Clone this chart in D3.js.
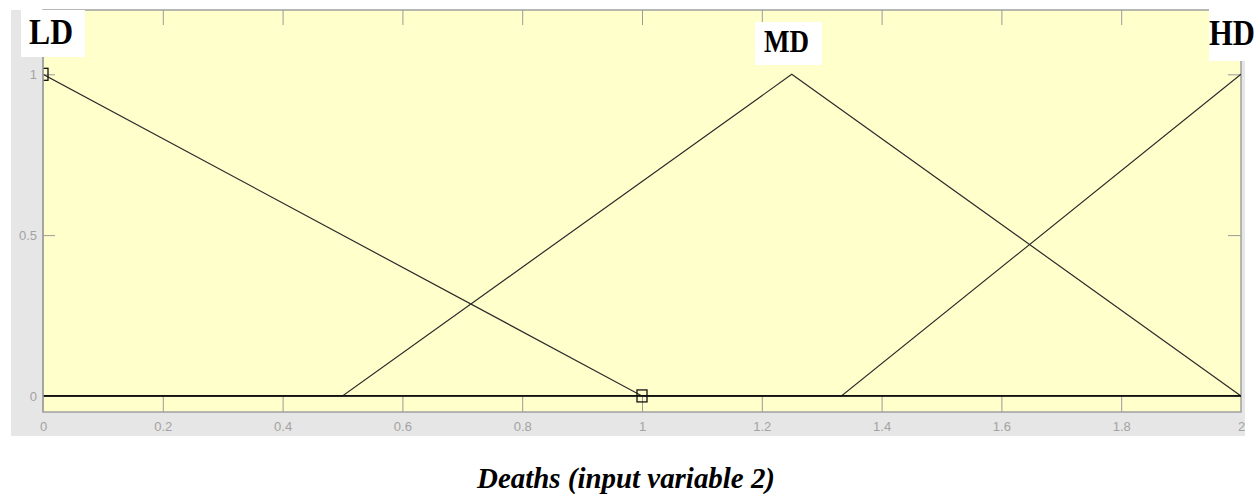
<!DOCTYPE html>
<html><head><meta charset="utf-8">
<script src="https://cdn.jsdelivr.net/npm/d3@7"></script>
<style>body{margin:0;background:#fff}svg{display:block}</style>
</head><body>
<svg id="c" width="1260" height="498"></svg>
<script>
const xTicks = [0,0.2,0.4,0.6,0.8,1,1.2,1.4,1.6,1.8,2];
const yTicks = [0,0.5,1];
const mfNames = ["LD","MD","HD"];
const ldX = [0,1,2],        ldY = [1,0,0];
const mdX = [0,0.5,1.25,2], mdY = [0,0,1,0];
const hdX = [0,1.333,2],    hdY = [0,0,1];
const markerX = [0,1], markerY = [1,0];
const title = "Deaths (input variable 2)";

const svg = d3.select("#c");
const L = 43, R = 1241, T = 10, B = 412;
const x = d3.scaleLinear().domain([0,2]).range([L,R]);
const y = d3.scaleLinear().domain([-0.05,1.2]).range([B,T]);

svg.append("defs").append("clipPath").attr("id","plotclip").append("rect")
  .attr("x",L).attr("y",T).attr("width",R-L).attr("height",B-T);

svg.append("rect").attr("x",11).attr("y",10).attr("width",1234).attr("height",426).attr("fill","#e6e6e6");
svg.append("rect").attr("x",L).attr("y",T).attr("width",R-L).attr("height",B-T).attr("fill","#ffffcc");

const tickCol = "#9a9a9a";
const g = svg.append("g");
g.append("g").attr("transform",`translate(0,${B})`).call(d3.axisBottom(x).tickValues(xTicks).tickSizeInner(-16).tickSizeOuter(0).tickPadding(10).tickFormat(d3.format("~g")));
g.append("g").attr("transform",`translate(0,${T})`).call(d3.axisTop(x).tickValues(xTicks).tickSizeInner(-15).tickSizeOuter(0).tickFormat(""));
g.append("g").attr("transform",`translate(${L},0)`).call(d3.axisLeft(y).tickValues(yTicks).tickSizeInner(-12).tickSizeOuter(0).tickPadding(6).tickFormat(d3.format("~g")));
g.append("g").attr("transform",`translate(${R},0)`).call(d3.axisRight(y).tickValues(yTicks).tickSizeInner(-13).tickSizeOuter(0).tickFormat(""));
g.selectAll(".domain").remove();
g.selectAll(".tick line").attr("stroke",tickCol);
g.selectAll(".tick text").attr("fill","#a3a3a3").attr("font-family","Liberation Sans, Arial").attr("font-size",13);
g.selectAll(".tick").filter(d=>d===0||d===2).select("line").attr("stroke","none");
svg.append("rect").attr("x",L).attr("y",T).attr("width",R-L).attr("height",B-T).attr("fill","none").attr("stroke","#a0a0a0").attr("stroke-width",1.5);

const plot = svg.append("g").attr("clip-path","url(#plotclip)");
const line = d3.line().x(d=>x(d[0])).y(d=>y(d[1]));
[[ldX,ldY],[mdX,mdY],[hdX,hdY]].forEach(([xs,ys])=>{
  plot.append("path").attr("d",line(xs.map((v,i)=>[v,ys[i]]))).attr("fill","none").attr("stroke","#2a2a2a").attr("stroke-width",1.2);
});
plot.append("line").attr("x1",x(0)).attr("x2",x(2)).attr("y1",y(0)).attr("y2",y(0)).attr("stroke","#111").attr("stroke-width",1.6);

markerX.forEach((mx,i)=>{
  plot.append("rect").attr("x",x(mx)-5).attr("y",y(markerY[i])-6).attr("width",10).attr("height",12)
    .attr("fill","none").attr("stroke","#111").attr("stroke-width",1.3);
});
svg.append("line").attr("x1",L).attr("x2",L).attr("y1",T).attr("y2",B).attr("stroke","#a0a0a0").attr("stroke-width",1.5);

const boxes = [
  {name:mfNames[0], bx:21, by:10, bw:64, bh:47, tx:29, ty:44, tw:44, fs:31.5, sy:1.14},
  {name:mfNames[1], bx:755, by:22, bw:67, bh:43, tx:764, ty:52, tw:45, fs:27, sy:1.18},
  {name:mfNames[2], bx:1209, by:0, bw:51, bh:61, tx:1209, ty:45, tw:46, fs:30.5, sy:1.2}
];
boxes.forEach(b=>{
  svg.append("rect").attr("x",b.bx).attr("y",b.by).attr("width",b.bw).attr("height",b.bh).attr("fill","#fff");
  svg.append("text").attr("transform",`translate(${b.tx},${b.ty}) scale(1,${b.sy})`)
    .attr("textLength",b.tw).attr("lengthAdjust","spacingAndGlyphs")
    .attr("font-family","Liberation Serif, Times New Roman, serif").attr("font-weight","bold").attr("font-size",b.fs).attr("fill","#000").text(b.name);
});

svg.append("text").attr("x",477).attr("y",488).attr("textLength",298).attr("lengthAdjust","spacingAndGlyphs")
  .attr("font-family","Liberation Serif, Times New Roman, serif").attr("font-weight","bold").attr("font-style","italic")
  .attr("font-size",30).attr("fill","#000").text(title);
</script>
</body></html>
